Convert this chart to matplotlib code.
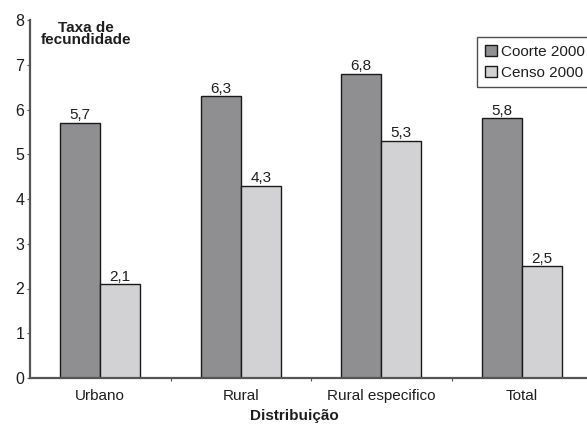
import matplotlib
matplotlib.use("Agg")
import matplotlib.pyplot as plt
import numpy as np

categories = ["Urbano", "Rural", "Rural especifico", "Total"]
coorte_2000 = [5.7, 6.3, 6.8, 5.8]
censo_2000 = [2.1, 4.3, 5.3, 2.5]
series_names = ["Coorte 2000", "Censo 2000"]

plt.rcParams["font.family"] = ["Liberation Sans", "DejaVu Sans"]

W, H = 587, 424
fig = plt.figure(figsize=(W / 100, H / 100), dpi=100)
x0, y0, ytop = 30, 378, 20           # axis origin / top in pixels
step = 140.5                         # pixels per category
ax = fig.add_axes([x0 / W, (H - y0) / H, 1 - x0 / W, (y0 - ytop) / H])

x = np.arange(len(categories))
w = 40 / step
dark = "#8f8f92"
light = "#d2d2d4"
txt = "#1e1e1e"

b1 = ax.bar(x - w / 2, coorte_2000, width=w, color=dark, edgecolor="#1a1a1a", linewidth=1.0)
b2 = ax.bar(x + w / 2, censo_2000, width=w, color=light, edgecolor="#1a1a1a", linewidth=1.0)

for bars, vals in ((b1, coorte_2000), (b2, censo_2000)):
    for r, v in zip(bars, vals):
        ax.annotate(f"{v:.1f}".replace(".", ","), (r.get_x() + r.get_width() / 2, v),
                    xytext=(0, 2.5), textcoords="offset points",
                    ha="center", va="baseline", fontsize=11, color=txt)

ax.set_xlim(-0.5, -0.5 + (W - x0) / step)
ax.set_ylim(0, 8)
ax.set_yticks(range(0, 9))
ax.tick_params(axis="y", length=2.5, width=0.8, color="#555555", labelsize=11.5,
               labelcolor=txt, pad=1.5)

ax.set_xticks(x[:-1] + 0.5)
ax.set_xticklabels([])
ax.tick_params(axis="x", which="major", length=2.5, width=0.8, color="#555555")
ax.set_xticks(x, minor=True)
ax.set_xticklabels(categories, minor=True, fontsize=11, color=txt)
ax.tick_params(axis="x", which="minor", length=0, pad=8)

for s in ("top", "right"):
    ax.spines[s].set_visible(False)
for s in ("left", "bottom"):
    ax.spines[s].set_color("#555555")
    ax.spines[s].set_linewidth(1.6)

fig.text(86 / W, 1 - 34 / H, "Taxa de\nfecundidade", ha="center", va="center",
         multialignment="center", linespacing=0.8,
         fontsize=11, fontweight="bold", color=txt)
fig.text(294 / W, 1 - 420 / H, "Distribuição", ha="center", va="baseline",
         fontsize=11, fontweight="bold", color=txt)

leg = ax.legend([b1, b2], series_names, loc="upper left",
                bbox_to_anchor=((477 - x0) / (W - x0), 1 - (37 - ytop) / (y0 - ytop)),
                fontsize=11, frameon=True, fancybox=False, edgecolor="#222222",
                handlelength=0.8, handleheight=0.8, handletextpad=0.3,
                borderpad=0.5, labelspacing=0.45, borderaxespad=0)
leg.get_frame().set_linewidth(1.0)
for t in leg.get_texts():
    t.set_color(txt)

fig.savefig("out.png", dpi=100)
